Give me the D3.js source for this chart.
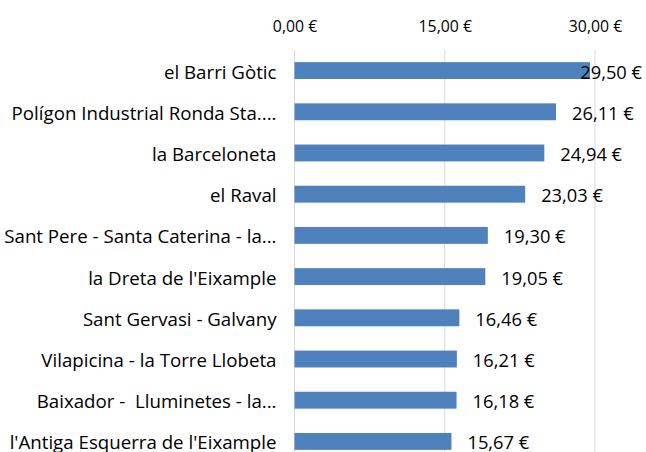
<!DOCTYPE html>
<html>
<head>
<meta charset="utf-8">
<script src="https://cdn.jsdelivr.net/npm/d3@7"></script>
<style>
  body { margin: 0; background: #fff; }
  text { font-family: "Open Sans", sans-serif; fill: #000; white-space: pre; }
</style>
</head>
<body>
<div id="container"></div>
<script>
// data
const barris = [
  "el Barri Gòtic",
  "Polígon Industrial Ronda Sta....",
  "la Barceloneta",
  "el Raval",
  "Sant Pere - Santa Caterina - la...",
  "la Dreta de l'Eixample",
  "Sant Gervasi - Galvany",
  "Vilapicina - la Torre Llobeta",
  "Baixador -  Lluminetes - la...",
  "l'Antiga Esquerra de l'Eixample"
];
const preus = [29.50, 26.11, 24.94, 23.03, 19.30, 19.05, 16.46, 16.21, 16.18, 15.67];
const ticks = [0, 15, 30];

const width = 646, height = 452;
const margin = { top: 50, right: 51, bottom: -10, left: 294.5 };

const fmt = v => v.toFixed(2).replace(".", ",") + " €";

const svg = d3.select("#container").append("svg")
  .attr("width", width)
  .attr("height", height);

const xScale = d3.scaleLinear()
  .domain([0, 30])
  .range([margin.left, width - margin.right]);

const yScale = d3.scaleBand()
  .domain(barris)
  .range([margin.top, height - margin.bottom])
  .paddingInner(0.59)
  .paddingOuter(0.295);

// gridlines
svg.append("g")
  .selectAll("line")
  .data(ticks)
  .join("line")
  .attr("x1", d => xScale(d))
  .attr("x2", d => xScale(d))
  .attr("y1", margin.top)
  .attr("y2", height)
  .attr("stroke", "#d9d9d9")
  .attr("stroke-width", 1);

// top axis
const xAxis = d3.axisTop(xScale)
  .tickValues(ticks)
  .tickFormat(fmt)
  .tickSize(0)
  .tickPadding(0);
const xAxisGroup = svg.append("g")
  .attr("transform", "translate(0,32)")
  .call(xAxis);
xAxisGroup.select(".domain").remove();
xAxisGroup.selectAll("text")
  .style("font-family", "'Open Sans', sans-serif")
  .attr("font-size", 15.8);

// category labels
svg.append("g")
  .selectAll("text")
  .data(barris)
  .join("text")
  .attr("x", margin.left - 18)
  .attr("y", d => yScale(d) + yScale.bandwidth() / 2 + 1.5)
  .attr("dy", "0.35em")
  .attr("text-anchor", "end")
  .attr("font-size", 18.7)
  .text(d => d);

// bars
svg.append("g")
  .selectAll("rect")
  .data(preus)
  .join("rect")
  .attr("x", xScale(0))
  .attr("y", (d, i) => yScale(barris[i]))
  .attr("width", d => xScale(d) - xScale(0))
  .attr("height", yScale.bandwidth())
  .attr("fill", "#4f81bd");

// value labels
const labels = svg.append("g")
  .selectAll("text")
  .data(preus)
  .join("text")
  .attr("y", (d, i) => yScale(barris[i]) + yScale.bandwidth() / 2 + 1.5)
  .attr("dy", "0.35em")
  .attr("font-size", 18.3)
  .text(d => fmt(d));
labels.attr("x", function (d) {
  const w = this.getComputedTextLength();
  return Math.min(xScale(d) + 16, width - 4 - w);
});
</script>
</body>
</html>
